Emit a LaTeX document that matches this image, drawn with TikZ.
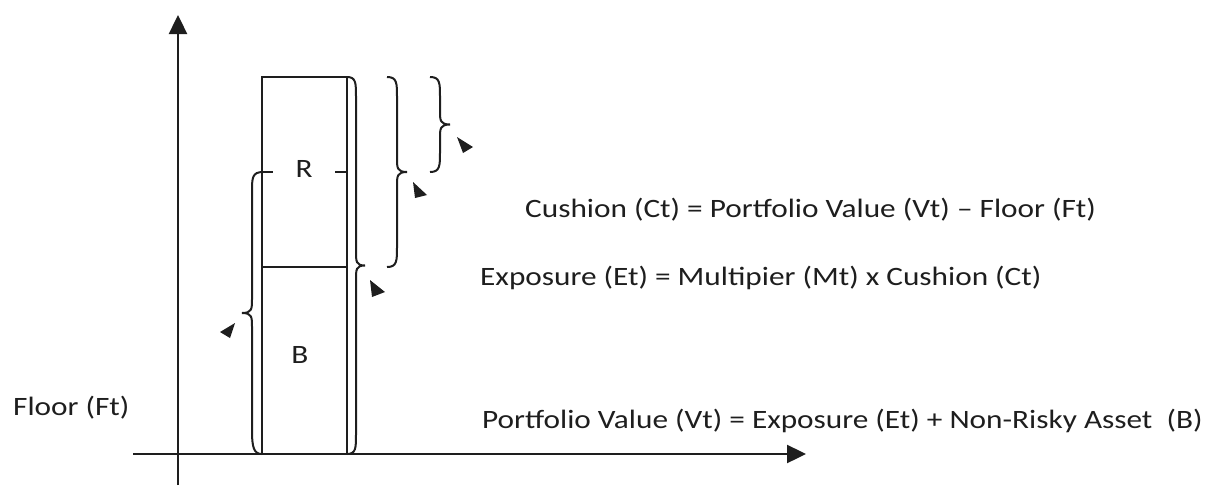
\documentclass[tikz,border=0pt]{standalone}
\usepackage{fontspec}
\setmainfont{Carlito}[FakeStretch=1.18]
\usetikzlibrary{arrows.meta}
\definecolor{ink}{HTML}{1E1E1E}
\tikzset{
  axis/.style={draw=ink, line width=2.4pt, -{Triangle[length=19pt,width=18pt]}},
  bar/.style={draw=ink, line width=2pt},
  bracket/.style={draw=ink, line width=2pt},
  pointer/.style={fill=ink},
  label/.style={inner sep=0pt, anchor=base west, font=\fontsize{26.5}{30}\selectfont, text=ink},
  letter/.style={inner sep=0pt, font=\fontsize{26.5}{30}\selectfont, text=ink}
}
% right-facing curly brace: #1 = open end x, #2 = top y, #3 = bottom y, #4 = depth
\newcommand{\rightcurl}[4]{%
  \pgfmathsetmacro{\bmid}{(#2+#3)/2}%
  \pgfmathsetmacro{\bh}{#1+#4/2}%
  \pgfmathsetmacro{\bt}{#1+#4}%
  \draw[bracket] (#1,#2) .. controls (\bh,#2) and (\bh,#2+6) .. (\bh,#2+20)
    -- (\bh,\bmid-14) .. controls (\bh,\bmid-4) and (\bh,\bmid) .. (\bt,\bmid)
    .. controls (\bh,\bmid) and (\bh,\bmid+4) .. (\bh,\bmid+14)
    -- (\bh,#3-20) .. controls (\bh,#3-6) and (\bh,#3) .. (#1,#3);}
\begin{document}
\begin{tikzpicture}[x=1pt,y=-1pt]
\useasboundingbox (0,0) rectangle (1221,485);
% axes
\coordinate (yfoot) at (178,485);
\coordinate (ytop) at (178,15);
\coordinate (xfoot) at (133,454);
\coordinate (xend) at (806,454);
\draw[axis] (yfoot) -- (ytop);
\draw[axis] (xfoot) -- (xend);
% portfolio column
\draw[bar] (262,454) -- (262,77) -- (347,77) -- (347,454);
\draw[bar] (262,267) -- (347,267);
\draw[bar] (262,172) -- (273,172);
\draw[bar] (335,172) -- (347,172);
\node[letter] (R) at (304,169) {R};
\node[letter] (B) at (300,355) {B};
% braces
\draw[bracket] (263,172) .. controls (252,172) and (252,178) .. (252,192)
  -- (252,299) .. controls (252,309) and (252,313) .. (242,313)
  .. controls (252,313) and (252,317) .. (252,327)
  -- (252,430) .. controls (252,448) and (254,454) .. (262,454);
\rightcurl{347}{77}{454}{18}
\rightcurl{387}{77}{267}{20}
\rightcurl{430}{77}{172}{20}
% pointers
\fill[pointer] (235,323) -- (220,332) -- (230,338) -- cycle;
\fill[pointer] (370,280) -- (372,297) -- (385,292) -- cycle;
\fill[pointer] (413,182) -- (415,198) -- (427,195) -- cycle;
\fill[pointer] (457,137) -- (463,153) -- (473,147) -- cycle;
% formulas
\node[label] (cushion) at (525,217) {Cushion (Ct) = Portfolio Value (Vt) – Floor (Ft)};
\node[label] (exposure) at (480,285) {Exposure (Et) = Multipier (Mt) x Cushion (Ct)};
\node[label] (value) at (482,428) {Portfolio Value (Vt) = Exposure (Et) + Non-Risky Asset~ (B)};
\node[label] (floor) at (13,415) {Floor (Ft)};
\end{tikzpicture}
\end{document}
